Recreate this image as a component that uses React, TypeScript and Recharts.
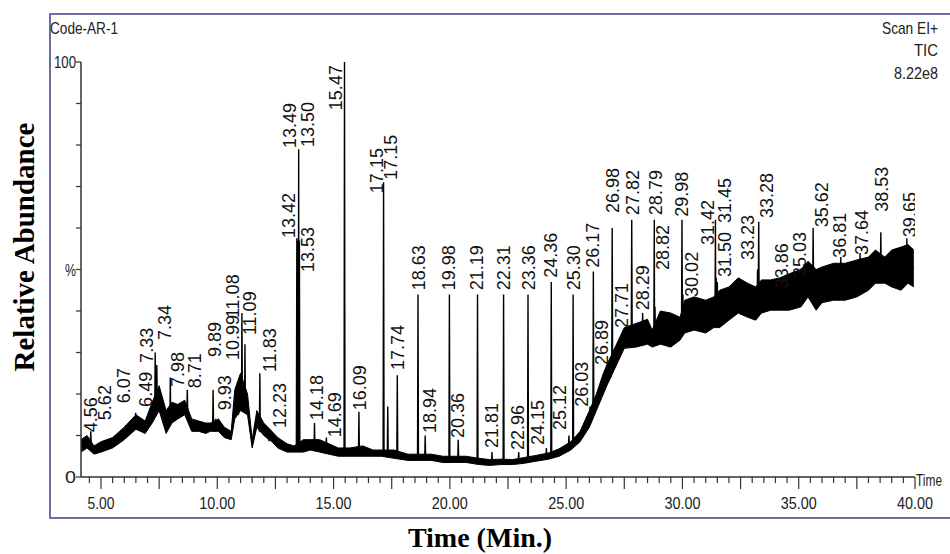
import { ComposedChart, Area, Line, Scatter, XAxis, YAxis } from "recharts";

// ---------------------------------------------------------------------------
// Data (minutes / relative abundance %)
// ---------------------------------------------------------------------------
// noise envelope of the baseline
const baseTimes = [
  4.14, 4.4, 4.7, 5.0, 5.5, 6.0, 6.5, 6.9, 7.2, 7.5, 7.8, 8.05, 8.3, 8.6, 8.9, 9.2,
  9.5, 9.7, 10.05, 10.3, 10.6, 10.75, 11.0, 11.3, 11.5, 11.7, 12.0, 12.35, 12.6, 13.0,
  13.3, 13.7, 14.0, 14.4, 14.8, 15.2, 15.7, 16.25, 16.7, 17.05, 17.6, 18.2, 18.75, 19.2,
  19.7, 20.2, 20.7, 21.25, 21.7, 22.2, 22.7, 23.2, 23.7, 24.25, 24.7, 25.2, 25.6, 26.0,
  26.3, 26.6, 26.75, 27.25, 27.5, 28.0, 28.5, 28.7, 29.05, 29.5, 29.9, 30.1, 30.5, 31.0,
  31.35, 31.6, 32.0, 32.4, 32.8, 33.15, 33.4, 33.8, 34.2, 34.6, 35.1, 35.4, 35.75, 36.0,
  36.5, 37.0, 37.5, 38.0, 38.3, 38.7, 39.0, 39.4, 39.7, 39.95,
];
const baseLow = [
  6, 7, 5.5, 6, 7, 9, 11.5, 10.5, 13, 16, 10.5, 13, 14, 15, 11, 11,
  10.5, 11, 11, 9.5, 9, 14, 16, 15, 7, 12, 10, 8.5, 7, 6,
  6, 6, 6.5, 6, 5.5, 5, 5, 5, 5, 5, 4.5, 4, 4, 4,
  3.5, 3.5, 3.5, 3, 2.8, 3, 3, 3.3, 3.8, 4.3, 5, 6.5, 8.5, 12,
  16, 20, 22, 28, 31, 31.3, 32, 31.3, 32, 31.3, 33, 34.7, 35.4, 34.7,
  36, 36, 37.8, 39.5, 38.5, 37.8, 39.5, 40.2, 40.2, 40.2, 41, 43.4, 40.2, 42,
  42.6, 42.6, 43.4, 45, 46.7, 46.7, 45.8, 45, 46.7, 45.8,
];
const baseHigh = [
  9, 10, 7.5, 8.5, 9.5, 12, 15, 13.5, 18, 22, 16, 18, 17.5, 18.5, 14, 13.5,
  13, 13, 14, 12, 11, 21, 25, 20, 9, 16, 13, 11, 9.5, 8,
  7.5, 9, 9, 9, 8, 7, 7, 7.5, 6.5, 6.5, 6.5, 5.5, 5.5, 5.5,
  5, 5, 5, 4.5, 4.2, 4.3, 4.2, 4.7, 5.2, 5.8, 6.8, 8.5, 11, 16,
  20, 25, 27, 33, 36, 37, 38, 35.4, 40, 39.5, 38.5, 42.6, 43.4, 42.6,
  43.4, 45, 45.8, 48, 46.7, 45.8, 47.5, 47.5, 48, 49, 50, 52, 50, 50.6,
  51.5, 51.5, 52.3, 53, 54.7, 53, 54.7, 55.4, 56, 54.7,
];

// peaks
const peakTimes = [
  4.56, 5.62, 6.07, 6.49, 7.33, 7.4, 7.98, 8.71, 9.82, 9.93, 10.89, 11.06, 11.19, 11.83,
  12.23, 13.42, 13.46, 13.5, 13.53, 14.18, 14.69, 15.47, 16.09, 17.15, 17.33, 17.74, 18.63,
  18.94, 19.98, 20.36, 21.19, 21.81, 22.31, 22.96, 23.36, 24.15, 24.36, 25.12, 25.3, 26.03,
  26.17, 26.89, 26.98, 27.71, 27.82, 28.29, 28.79, 28.82, 29.98, 30.02, 31.42, 31.45, 31.5,
  33.23, 33.28, 33.86, 35.03, 35.62, 36.81, 37.64, 38.53, 39.65,
];
const peakTops = [
  11, 10, 12.5, 15.5, 30, 27, 24, 21, 21, 14, 23, 39.5, 32, 25,
  10.5, 57.5, 57, 79, 57, 13, 9.5, 100, 15.7, 71, 17, 24.5, 44,
  10, 44, 9, 44, 6, 44, 6, 44, 7, 47, 10, 44, 17,
  49.5, 27, 60, 35.5, 62, 39.5, 62, 41, 62, 44, 62, 48, 47,
  50, 61.5, 47, 49, 60, 53, 54, 59, 57.5,
];
const peakFeet = [
  8, 8.5, 10.5, 13, 15, 18, 13, 15.5, 12, 12, 15, 18, 17, 11,
  9, 7, 20, 7, 7, 7.5, 6.5, 6, 6, 5.5, 5.5, 5.5, 4.8,
  4.8, 4.3, 4.3, 3.8, 3.5, 3.6, 3.6, 4, 5, 5, 7.5, 8, 14,
  15, 24, 26, 33, 34, 34, 33, 34, 35, 38, 38, 39, 39,
  42, 42, 43, 45, 45, 46, 47, 49, 50,
];

// retention-time annotations (text, column position in min, foot of text in %)
const labelTexts = [
  "4.56", "5.62", "6.07", "6.49", "7.33", "7.34", "7.98", "8.71", "9.89", "9.93",
  "10.99", "11.08", "11.09", "11.83", "12.23", "13.42", "13.49", "13.50", "13.53", "14.18",
  "14.69", "15.47", "16.09", "17.15", "17.15", "17.74", "18.63", "18.94", "19.98", "20.36",
  "21.19", "21.81", "22.31", "22.96", "23.36", "24.15", "24.36", "25.12", "25.30", "26.03",
  "26.17", "26.89", "26.98", "27.71", "27.82", "28.29", "28.79", "28.82", "29.98", "30.02",
  "31.42", "31.50", "31.45", "33.23", "33.28", "33.86", "35.03", "35.62", "36.81", "37.64",
  "38.53", "39.65",
];
const labelTimes = [
  4.57, 5.17, 5.99, 6.93, 6.98, 7.75, 8.31, 9.04, 9.9, 10.33,
  10.67, 10.67, 11.41, 12.27, 12.7, 13.08, 13.13, 13.9, 13.9, 14.29,
  15.06, 15.1, 16.13, 16.87, 17.47, 17.77, 18.67, 19.14, 19.96, 20.35,
  21.16, 21.81, 22.33, 22.93, 23.4, 23.79, 24.35, 24.73, 25.34, 25.68,
  26.15, 26.54, 27.01, 27.4, 27.87, 28.3, 28.86, 29.16, 29.98, 30.41,
  31.1, 31.83, 31.83, 32.82, 33.63, 34.28, 35.05, 36.0, 36.77, 37.72,
  38.58, 39.78,
];
const labelLevels = [
  10.8, 13.7, 17.8, 16.9, 27.5, 33, 21.7, 21.4, 28.9, 16.1,
  28.2, 38.3, 34.2, 25.3, 11.8, 57.6, 79.3, 79.5, 49.4, 13.7,
  9.6, 88.4, 16.1, 68.4, 71.6, 25.8, 45, 10.6, 45, 9.4,
  45, 7, 45, 6.5, 45, 7.7, 48, 11.3, 45, 16.9,
  50.4, 27, 63.6, 35.9, 63.1, 40.2, 63.1, 49.9, 62.7, 43.4,
  55.9, 48.2, 61.2, 52.3, 62.4, 45.5, 48.2, 60.2, 52.8, 53.5,
  63.9, 57.8,
];

const xLabelTicks = [5, 10, 15, 20, 25, 30, 35, 40];
const yTicks = [0, 10, 20, 30, 40, 50, 60, 70, 80, 90, 100];
const yTickText: Record<number, string> = { 0: "0", 50: "%", 100: "100" };

// ---------------------------------------------------------------------------
// Helpers
// ---------------------------------------------------------------------------
const SANS = "'Liberation Sans', Arial, sans-serif";
const SERIF = "'Liberation Serif', 'Times New Roman', serif";

function buildTrace() {
  const rows: { t: number; band?: number[]; sig: number }[] = [];
  baseTimes.forEach((t, i) =>
    rows.push({ t, band: [baseLow[i], baseHigh[i]], sig: (baseLow[i] + baseHigh[i]) / 2 })
  );
  peakTimes.forEach((t, i) => {
    rows.push({ t: t - 0.02, sig: peakFeet[i] });
    rows.push({ t, sig: peakTops[i] });
    rows.push({ t: t + 0.02, sig: peakFeet[i] });
  });
  return rows.sort((a, b) => a.t - b.t);
}

const trace = buildTrace();
const labels = labelTexts.map((text, i) => ({ t: labelTimes[i], v: labelLevels[i], text }));

const minorTicks: number[] = [];
for (let k = 9; k <= 80; k++) minorTicks.push(k / 2);

// condensed look of the instrument font
function Narrow({ x, y, w, size = 17, anchor = "start", children }: {
  x: number; y: number; w: number; size?: number; anchor?: "start" | "middle" | "end"; children: string;
}) {
  return (
    <text
      x={x}
      y={y}
      textAnchor={anchor}
      fontSize={size}
      fontFamily={SANS}
      fill="#222"
      textLength={w}
      lengthAdjust="spacingAndGlyphs"
    >
      {children}
    </text>
  );
}

// ---------------------------------------------------------------------------
// Custom ticks / shapes
// ---------------------------------------------------------------------------
function TimeTick(props: { x?: number; y?: number; payload?: { value: number } }) {
  const { x = 0, y = 0, payload } = props;
  const v = payload?.value ?? 0;
  const major = Math.abs(v / 2.5 - Math.round(v / 2.5)) < 1e-6;
  const labelled = xLabelTicks.includes(v);
  return (
    <g>
      <line x1={x} x2={x} y1={y} y2={y + (major ? 12 : 6)} stroke="#333" strokeWidth={1.2} />
      {labelled && (
        <Narrow x={x} y={y + 32} w={v >= 10 ? 36 : 27} anchor="middle">
          {v.toFixed(2)}
        </Narrow>
      )}
    </g>
  );
}

function AbundanceTick(props: { x?: number; y?: number; payload?: { value: number } }) {
  const { x = 0, y = 0, payload } = props;
  const v = payload?.value ?? 0;
  const txt = yTickText[v];
  return (
    <g>
      <line x1={x - 5} x2={x} y1={y} y2={y} stroke="#333" strokeWidth={1.2} />
      {txt && (
        <Narrow x={x - 5} y={y + 6} w={txt.length === 3 ? 22 : 11} anchor="end">
          {txt}
        </Narrow>
      )}
    </g>
  );
}

function PeakLabel(props: { cx?: number; cy?: number; payload?: { text: string } }) {
  const { cx, cy, payload } = props;
  if (cx == null || cy == null) return null;
  return (
    <text
      x={cx}
      y={cy}
      dy="0.35em"
      transform={`rotate(-90 ${cx} ${cy})`}
      fontSize={18}
      fontFamily={SANS}
      fill="#111"
    >
      {payload?.text}
    </text>
  );
}

// ---------------------------------------------------------------------------
// Chart
// ---------------------------------------------------------------------------
export default function App() {
  return (
    <div style={{ position: "absolute", left: 0, top: 0, width: 950, height: 554, background: "#fff" }}>
      <ComposedChart
        width={950}
        height={554}
        data={trace}
        margin={{ top: 62, right: 35, bottom: 37, left: 41 }}
      >
        <XAxis
          dataKey="t"
          type="number"
          domain={[4.14, 40]}
          ticks={minorTicks}
          tick={TimeTick as never}
          tickSize={0}
          tickMargin={0}
          height={40}
          interval={0}
          axisLine={{ stroke: "#333", strokeWidth: 1.5 }}
          allowDataOverflow
        />
        <YAxis
          type="number"
          domain={[0, 100]}
          ticks={yTicks}
          tick={AbundanceTick as never}
          tickSize={0}
          tickMargin={0}
          width={40}
          interval={0}
          axisLine={{ stroke: "#333", strokeWidth: 1.5 }}
          allowDataOverflow
        />
        <Area
          dataKey="band"
          type="linear"
          stroke="#000"
          strokeWidth={1}
          fill="#000"
          fillOpacity={1}
          connectNulls
          isAnimationActive={false}
        />
        <Line
          dataKey="sig"
          type="linear"
          stroke="#000"
          strokeWidth={1.4}
          dot={false}
          connectNulls
          isAnimationActive={false}
        />
        <Scatter
          data={labels}
          dataKey="v"
          shape={PeakLabel as never}
          isAnimationActive={false}
        />
      </ComposedChart>

      {/* frame and captions */}
      <svg
        width={950}
        height={554}
        style={{ position: "absolute", left: 0, top: 0, pointerEvents: "none" }}
      >
        <rect x={50} y={14} width={960} height={504} fill="none" stroke="#6e6ea6" strokeWidth={2} />
        <Narrow x={50} y={34} w={68}>Code-AR-1</Narrow>
        <Narrow x={938} y={34} w={56} anchor="end">Scan EI+</Narrow>
        <Narrow x={938} y={56} w={24} anchor="end">TIC</Narrow>
        <Narrow x={938} y={79} w={44} anchor="end">8.22e8</Narrow>
        <Narrow x={916} y={486} w={26} size={16}>Time</Narrow>
        <text x={480} y={547} textAnchor="middle" fontSize={28} fontWeight="bold" fontFamily={SERIF} fill="#000">
          Time (Min.)
        </text>
        <text
          x={24}
          y={247}
          textAnchor="middle"
          dy="0.35em"
          transform="rotate(-90 24 247)"
          fontSize={29}
          fontWeight="bold"
          fontFamily={SERIF}
          fill="#000"
        >
          Relative Abundance
        </text>
      </svg>
    </div>
  );
}
